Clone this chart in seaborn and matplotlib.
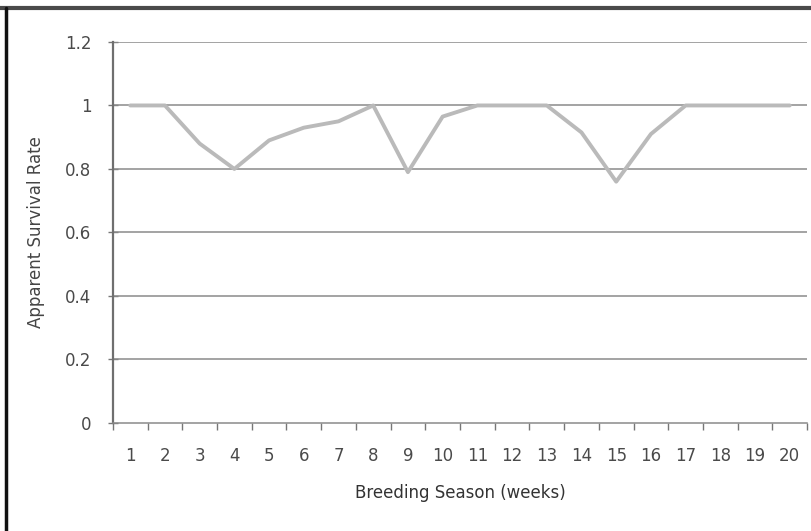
import matplotlib
matplotlib.use("Agg")
import matplotlib.pyplot as plt
from matplotlib.lines import Line2D
import pandas as pd
import seaborn as sns

# === DATA ===
weeks = list(range(1, 21))
survival = [1.0, 1.0, 0.88, 0.80, 0.89, 0.93, 0.95, 1.0, 0.79, 0.965,
            1.0, 1.0, 1.0, 0.915, 0.76, 0.91, 1.0, 1.0, 1.0, 1.0]
y_ticks = [0, 0.2, 0.4, 0.6, 0.8, 1.0, 1.2]
y_tick_labels = ["0", "0.2", "0.4", "0.6", "0.8", "1", "1.2"]

df = pd.DataFrame({"week": weeks, "survival": survival})

sns.set_style("white")
plt.rcParams["font.family"] = ["DejaVu Sans"]

fig = plt.figure(figsize=(8.12, 5.31), dpi=100)
ax = fig.add_axes([0.139, 0.2034, 0.855, 0.7176])

# gridlines first so the data line sits on top
for v in y_ticks[1:]:
    ax.axhline(v, color="#8a8a8a", lw=1.1, zorder=1)

sns.lineplot(data=df, x="week", y="survival", ax=ax, color="#bababa",
             lw=2.8, zorder=3)

ax.set_xlim(0.5, 20.5)
ax.set_ylim(0, 1.2)

ax.set_xticks(weeks)
ax.set_xticklabels([str(w) for w in weeks])
ax.set_xticks([w + 0.5 for w in range(0, 21)], minor=True)
ax.tick_params(axis="x", which="major", length=0, pad=17,
               labelsize=12, labelcolor="#4a4a4a")
ax.tick_params(axis="x", which="minor", length=5, width=1,
               color="#777777", direction="out", bottom=True)

ax.set_yticks(y_ticks)
ax.set_yticklabels(y_tick_labels)
ax.tick_params(axis="y", which="major", length=7, width=1,
               color="#777777", direction="inout", left=True,
               labelsize=12, labelcolor="#4a4a4a", pad=12)

for side in ["top", "right"]:
    ax.spines[side].set_visible(False)
ax.spines["left"].set_color("#6f6f6f")
ax.spines["left"].set_linewidth(1.6)
ax.spines["bottom"].set_color("#8a8a8a")
ax.spines["bottom"].set_linewidth(1.1)

ax.set_xlabel("Breeding Season (weeks)", fontsize=12, color="#333333",
              labelpad=14)
ax.set_ylabel("Apparent Survival Rate", fontsize=12, color="#444444",
              labelpad=14)

# outer frame lines of the pasted chart (top and left)
fig.add_artist(Line2D([0.0, 1.0], [0.985, 0.985], transform=fig.transFigure,
                      color="#4a4a4a", lw=3))
fig.add_artist(Line2D([0.008, 0.008], [0.0, 0.985], transform=fig.transFigure,
                      color="#111111", lw=2.5))

fig.savefig("out.png", dpi=100)
plt.close(fig)
